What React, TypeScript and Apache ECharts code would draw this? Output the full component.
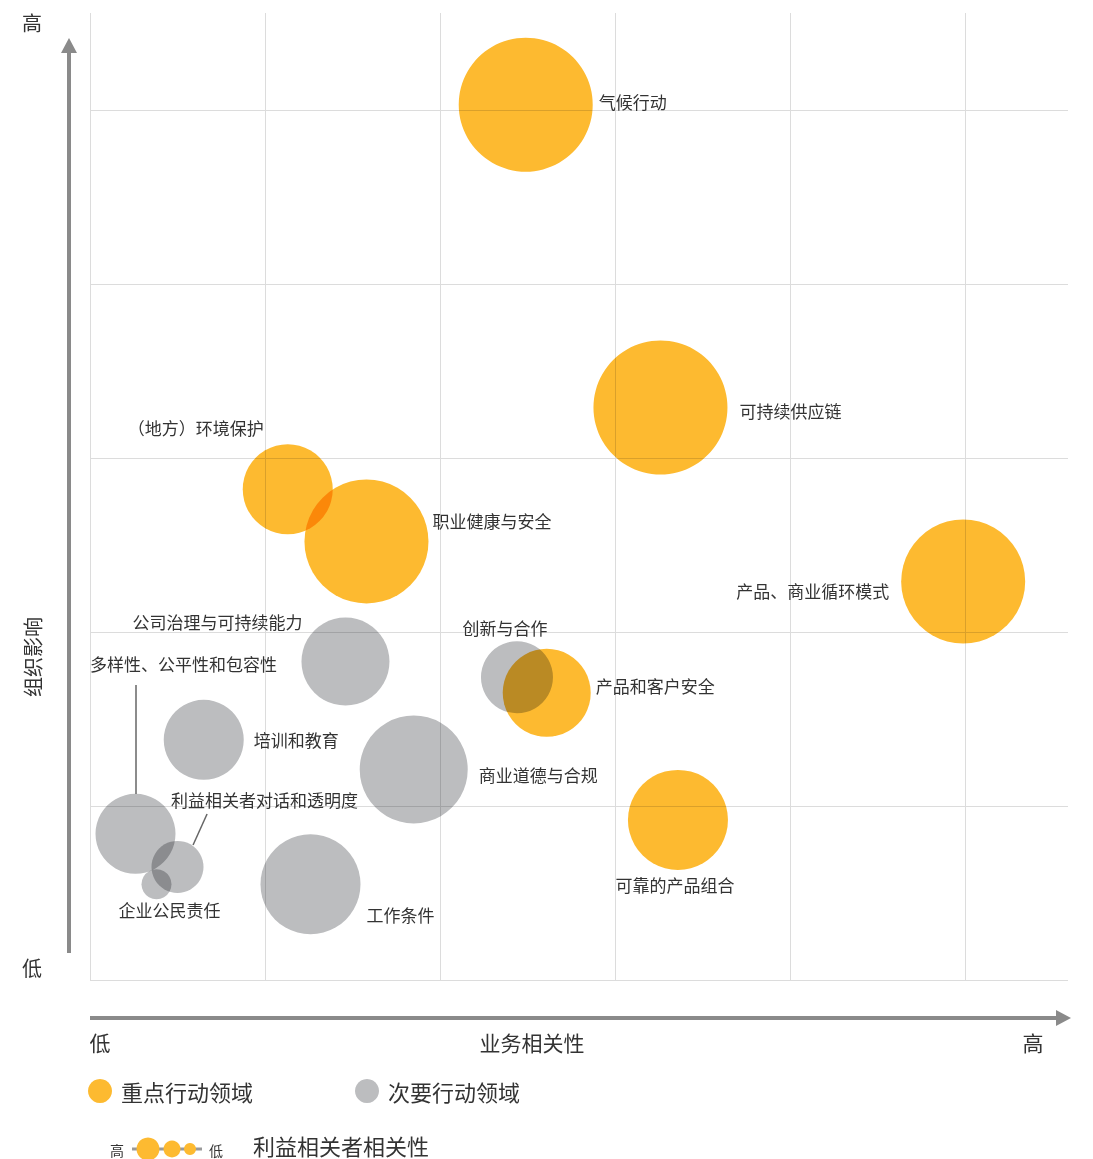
import React, { useEffect, useRef } from "react";
import * as echarts from "echarts";

// ---------- data ----------
const primaryNames = [
  "气候行动",
  "可持续供应链",
  "（地方）环境保护",
  "职业健康与安全",
  "产品、商业循环模式",
  "产品和客户安全",
  "可靠的产品组合",
];
const primaryBusiness = [2.49, 3.26, 1.13, 1.58, 4.99, 2.61, 3.36];
const primaryImpact = [5.03, 3.29, 2.82, 2.52, 2.29, 1.65, 0.92];
const primaryStakeholder = [67, 67, 45, 62, 62, 44, 50];

const secondaryNames = [
  "公司治理与可持续能力",
  "创新与合作",
  "培训和教育",
  "商业道德与合规",
  "多样性、公平性和包容性",
  "利益相关者对话和透明度",
  "企业公民责任",
  "工作条件",
];
const secondaryBusiness = [1.46, 2.44, 0.65, 1.85, 0.26, 0.5, 0.38, 1.26];
const secondaryImpact = [1.83, 1.74, 1.38, 1.21, 0.84, 0.65, 0.55, 0.55];
const secondaryStakeholder = [44, 36, 40, 54, 40, 26, 15, 50];

const leaderLines = [
  [[0.263, 1.695], [0.263, 1.069]],
  [[0.669, 0.954], [0.589, 0.776]],
];

const xEndLabels = ["低", "业务相关性", "高"];
const yEndLabels = ["低", "组织影响", "高"];
const legendNames = ["重点行动领域", "次要行动领域"];
const sizeLegend = ["高", "低", "利益相关者相关性"];

// ---------- label placement (style) ----------
type LP = [string, number, number];
const primaryLabelPos: LP[] = [
  ["left", 73, -3],
  ["left", 79, 3],
  ["center", -92, -62],
  ["left", 66, -21],
  ["right", -74, 9],
  ["left", 49, -7],
  ["center", -3, 65],
];
const secondaryLabelPos: LP[] = [
  ["center", -128, -40],
  ["center", -12, -50],
  ["left", 50, 0],
  ["left", 65, 5],
  ["center", 48, -170],
  ["center", 87, -67],
  ["center", 13, 25],
  ["left", 56, 30],
];

const ORANGE = "#fdba30";
const ORANGE_FLAT = "#fdba31";
const GRAY = "#bcbdbf";
const FONT = "'Noto Sans CJK SC', 'Noto Sans', sans-serif";
const TEXT = "#333333";
const ARROW = "#8a8a8a";

function buildData(names: string[], xs: number[], ys: number[], ss: number[], pos: LP[]) {
  return names.map((n, i) => ({
    name: n,
    value: [xs[i], ys[i], ss[i]],
    label: {
      align: pos[i][0],
      offset: [pos[i][1], pos[i][2]],
    },
  }));
}

function txt(text: string, x: number, y: number, size: number, align = "center", extra: any = {}) {
  return {
    type: "text",
    x,
    y,
    silent: true,
    ...extra,
    style: {
      text,
      x: 0,
      y: 0,
      fill: TEXT,
      font: `${size}px ${FONT}`,
      textAlign: align,
      textVerticalAlign: "middle",
      align,
      verticalAlign: "middle",
    },
  };
}

export default function App() {
  const ref = useRef<HTMLDivElement>(null);

  useEffect(() => {
    if (!ref.current) return;
    const chart = echarts.init(ref.current, null, { renderer: "svg" });

    const labelBase = {
      show: true,
      position: "inside",
      formatter: "{b}",
      color: TEXT,
      fontSize: 17,
      fontFamily: FONT,
      verticalAlign: "middle",
    };

    const option: any = {
      animation: false,
      backgroundColor: "#ffffff",
      textStyle: { fontFamily: FONT },
      grid: { left: 90, top: 13, width: 978, height: 967, containLabel: false },
      xAxis: {
        type: "value",
        min: 0,
        max: 5.589,
        interval: 1,
        axisLine: { show: false },
        axisTick: { show: false },
        axisLabel: { show: false },
        splitLine: {
          show: true,
          showMinLine: true,
          showMaxLine: false,
          lineStyle: { color: "#dcdcdc", width: 1 },
        },
      },
      yAxis: {
        type: "value",
        min: 0,
        max: 5.557,
        interval: 1,
        axisLine: { show: false },
        axisTick: { show: false },
        axisLabel: { show: false },
        splitLine: {
          show: true,
          showMinLine: true,
          showMaxLine: false,
          lineStyle: { color: "#dcdcdc", width: 1 },
        },
      },
      legend: {
        left: 88,
        top: 1079,
        padding: 0,
        icon: "circle",
        itemWidth: 24,
        itemHeight: 24,
        itemGap: 102,
        selectedMode: false,
        data: legendNames,
        textStyle: { fontSize: 22, color: TEXT, fontFamily: FONT, padding: [0, 0, 5, 4] },
      },
      series: [
        {
          name: legendNames[0],
          type: "scatter",
          z: 3,
          silent: true,
          symbol: "circle",
          symbolSize: (v: number[]) => v[2] * 2,
          itemStyle: { color: ORANGE, opacity: 1 },
          label: labelBase,
          emphasis: { disabled: true },
          data: buildData(primaryNames, primaryBusiness, primaryImpact, primaryStakeholder, primaryLabelPos),
        },
        {
          name: legendNames[1],
          type: "scatter",
          z: 3,
          silent: true,
          symbol: "circle",
          symbolSize: (v: number[]) => v[2] * 2,
          itemStyle: { color: GRAY, opacity: 1 },
          label: labelBase,
          emphasis: { disabled: true },
          data: buildData(secondaryNames, secondaryBusiness, secondaryImpact, secondaryStakeholder, secondaryLabelPos),
          markLine: {
            silent: true,
            symbol: "none",
            animation: false,
            label: { show: false },
            lineStyle: { color: "#666666", width: 1.5, type: "solid" },
            emphasis: { disabled: true },
            data: leaderLines.map((l) => [{ coord: l[0] }, { coord: l[1] }]),
          },
        },
      ],
      graphic: [
        // y axis arrow
        { type: "line", silent: true, shape: { x1: 69, y1: 953, x2: 69, y2: 50 }, style: { stroke: ARROW, lineWidth: 4 } },
        { type: "polygon", silent: true, shape: { points: [[69, 38], [61, 53], [77, 53]] }, style: { fill: ARROW } },
        // x axis arrow
        { type: "line", silent: true, shape: { x1: 90, y1: 1018, x2: 1058, y2: 1018 }, style: { stroke: ARROW, lineWidth: 4 } },
        { type: "polygon", silent: true, shape: { points: [[1071, 1018], [1056, 1010], [1056, 1026]] }, style: { fill: ARROW } },
        txt(yEndLabels[2], 32, 22, 20),
        txt(yEndLabels[0], 32, 967, 20),
        txt(yEndLabels[1], 32, 657, 20, "center", { rotation: Math.PI / 2 }),
        txt(xEndLabels[0], 100, 1042, 21),
        txt(xEndLabels[1], 532, 1042, 21),
        txt(xEndLabels[2], 1033, 1042, 21),
        // stakeholder size legend
        { type: "line", silent: true, shape: { x1: 132, y1: 1149, x2: 202, y2: 1149 }, style: { stroke: "#9a9a9a", lineWidth: 3 } },
        { type: "circle", silent: true, z: 10, shape: { cx: 148, cy: 1149, r: 11.5 }, style: { fill: ORANGE_FLAT } },
        { type: "circle", silent: true, z: 10, shape: { cx: 172, cy: 1149, r: 8.5 }, style: { fill: ORANGE_FLAT } },
        { type: "circle", silent: true, z: 10, shape: { cx: 190, cy: 1149, r: 6 }, style: { fill: ORANGE_FLAT } },
        txt(sizeLegend[0], 117, 1150, 14),
        txt(sizeLegend[1], 216, 1150, 14),
        txt(sizeLegend[2], 253, 1145, 22, "left"),
      ],
    };

    chart.setOption(option);

    const targets = new Set([
      ORANGE,
      GRAY,
      "rgb(253,186,48)",
      "rgb(188,189,191)",
      "rgb(253, 186, 48)",
      "rgb(188, 189, 191)",
    ]);
    const applyBlend = () => {
      const root = ref.current;
      if (!root) return;
      root.querySelectorAll("svg [fill]").forEach((el) => {
        const f = (el.getAttribute("fill") || "").toLowerCase().trim();
        if (targets.has(f)) (el as HTMLElement).style.mixBlendMode = "multiply";
      });
    };
    applyBlend();
    chart.on("finished", applyBlend);

    return () => {
      chart.dispose();
    };
  }, []);

  return (
    <div
      ref={ref}
      style={{ position: "absolute", left: 0, top: 0, width: 1093, height: 1159, background: "#fff" }}
    />
  );
}
